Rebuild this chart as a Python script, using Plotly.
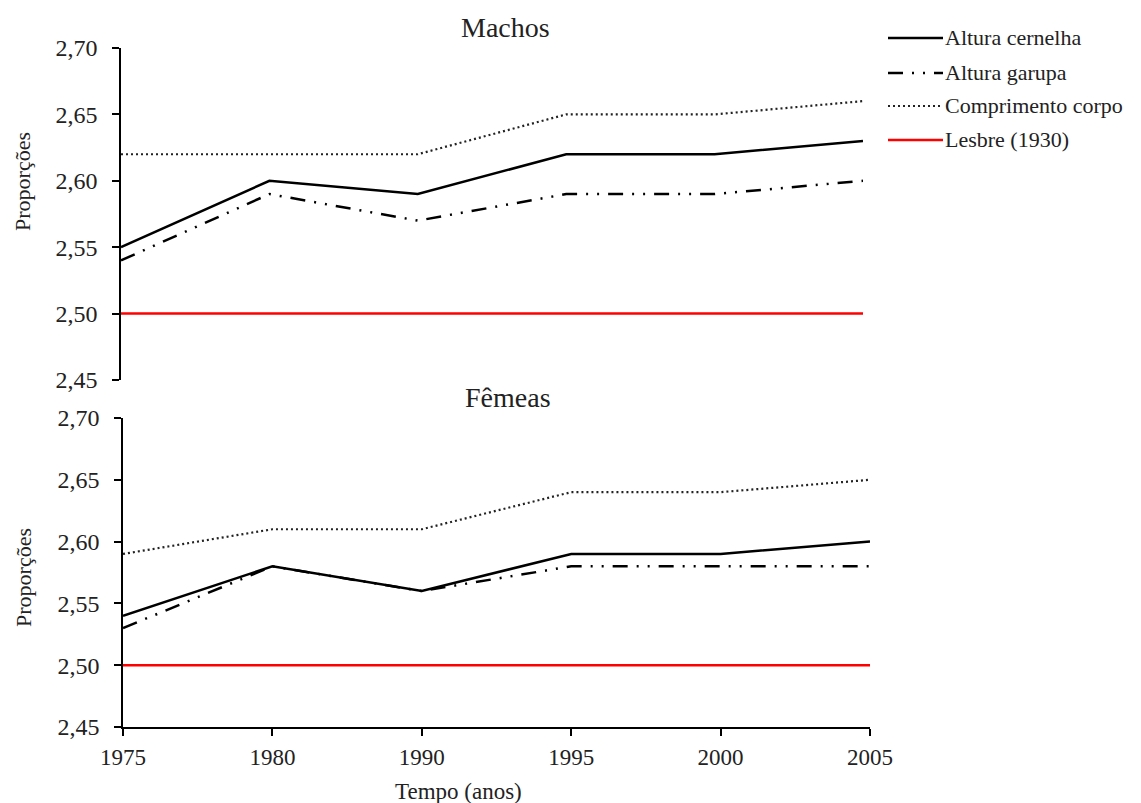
import plotly.graph_objects as go

years = ["1975", "1980", "1990", "1995", "2000", "2005"]
y_ticks = [2.45, 2.50, 2.55, 2.60, 2.65, 2.70]

machos_cernelha = [2.55, 2.60, 2.59, 2.62, 2.62, 2.63]
machos_garupa = [2.54, 2.59, 2.57, 2.59, 2.59, 2.60]
machos_comprimento = [2.62, 2.62, 2.62, 2.65, 2.65, 2.66]
machos_lesbre = [2.50, 2.50, 2.50, 2.50, 2.50, 2.50]

femeas_cernelha = [2.54, 2.58, 2.56, 2.59, 2.59, 2.60]
femeas_garupa = [2.53, 2.58, 2.56, 2.58, 2.58, 2.58]
femeas_comprimento = [2.59, 2.61, 2.61, 2.64, 2.64, 2.65]
femeas_lesbre = [2.50, 2.50, 2.50, 2.50, 2.50, 2.50]

series_names = ["Altura cernelha", "Altura garupa", "Comprimento corpo", "Lesbre (1930)"]

OFF = 8  # page body margin
W, H = 1141 - OFF, 803 - OFF
FONT = "Liberation Serif, Times New Roman, serif"
TXT = "#222222"

styles = [
    dict(color="black", width=2.5, dash="solid"),
    dict(color="black", width=2.5, dash="15px,9px,2px,9px,2px,9px"),
    dict(color="#222222", width=2.2, dash="2px,3px"),
    dict(color="#ff0000", width=2.5, dash="solid"),
]

xi = list(range(len(years)))

fig = go.Figure()
top = [machos_cernelha, machos_garupa, machos_comprimento, machos_lesbre]
bot = [femeas_cernelha, femeas_garupa, femeas_comprimento, femeas_lesbre]
for name, vals, st in zip(series_names, top, styles):
    fig.add_trace(go.Scatter(x=xi, y=vals, mode="lines", name=name, line=st,
                             xaxis="x", yaxis="y", showlegend=False))
for name, vals, st in zip(series_names, bot, styles):
    fig.add_trace(go.Scatter(x=xi, y=vals, mode="lines", name=name, line=st,
                             xaxis="x2", yaxis="y2", showlegend=False))

def px_x(p):
    return (p - OFF) / W

def px_y(p):
    return 1 - (p - OFF) / H

yax_common = dict(range=[2.45, 2.70], tickvals=y_ticks, tickformat=".2f",
                  showline=True, linecolor="black", linewidth=1.5,
                  ticks="outside", ticklen=7, tickcolor="black", tickwidth=1.5,
                  ticklabelstandoff=10,
                  showgrid=False, zeroline=False, automargin=False,
                  tickfont=dict(family=FONT, size=24, color=TXT))

fig.update_layout(
    width=W, height=H,
    margin=dict(l=0, r=0, t=0, b=0, autoexpand=False),
    paper_bgcolor="white", plot_bgcolor="white",
    separators=",.",
    showlegend=False,
    xaxis=dict(domain=[px_x(121), px_x(863)], range=[0, 5], anchor="y",
               showline=False, showticklabels=False, ticks="", showgrid=False,
               zeroline=False, automargin=False),
    yaxis=dict(domain=[px_y(380), px_y(48)], anchor="x", **yax_common),
    xaxis2=dict(domain=[px_x(123), px_x(870)], range=[0, 5], anchor="y2",
                tickvals=xi, ticktext=years,
                showline=True, linecolor="black", linewidth=1.5,
                ticks="outside", ticklen=7, tickcolor="black", tickwidth=1.5,
                ticklabelstandoff=2,
                showgrid=False, zeroline=False, automargin=False,
                tickfont=dict(family=FONT, size=23, color=TXT)),
    yaxis2=dict(domain=[px_y(727), px_y(418)], anchor="x2", **yax_common),
)

ann = [
    dict(text="Machos", x=px_x(505), y=px_y(28), size=28),
    dict(text="Fêmeas", x=px_x(508), y=px_y(397), size=28),
    dict(text="Tempo (anos)", x=px_x(458), y=px_y(791), size=23),
]
for a in ann:
    fig.add_annotation(text=a["text"], x=a["x"], y=a["y"], xref="paper", yref="paper",
                       showarrow=False, xanchor="center", yanchor="middle",
                       font=dict(family=FONT, size=a["size"], color=TXT))
for yc in [182, 578]:
    fig.add_annotation(text="Proporções", x=px_x(23), y=px_y(yc), xref="paper", yref="paper",
                       showarrow=False, textangle=-90, xanchor="center", yanchor="middle",
                       font=dict(family=FONT, size=22, color=TXT))

# legend (manual)
leg_rows = [38, 73, 106, 140]
for name, st, yr in zip(series_names, styles, leg_rows):
    fig.add_shape(type="line", xref="paper", yref="paper",
                  x0=px_x(888), x1=px_x(943), y0=px_y(yr), y1=px_y(yr),
                  line=dict(color=st["color"], width=st["width"], dash=st["dash"]))
    fig.add_annotation(text=name, x=px_x(943), y=px_y(yr), xref="paper", yref="paper",
                       showarrow=False, xanchor="left", yanchor="middle",
                       font=dict(family=FONT, size=22, color=TXT))

fig.write_html("out.html")
